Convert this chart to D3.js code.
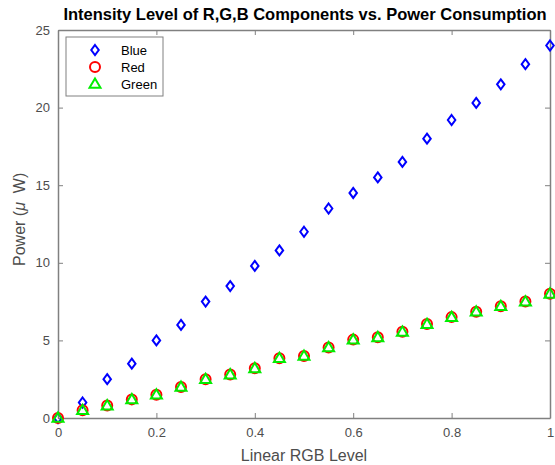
<!DOCTYPE html>
<html>
<head>
<meta charset="utf-8">
<script src="https://cdn.jsdelivr.net/npm/d3@7"></script>
<style>
  body { margin: 0; background: #fff; }
  svg { font-family: "Liberation Sans", Arial, sans-serif; }
</style>
</head>
<body>
<script>
// data
const levels = [0, 0.05, 0.1, 0.15, 0.2, 0.25, 0.3, 0.35, 0.4, 0.45, 0.5, 0.55, 0.6, 0.65, 0.7, 0.75, 0.8, 0.85, 0.9, 0.95, 1]
const blue = [0, 1, 2.5, 3.5, 5, 6, 7.5, 8.5, 9.8, 10.8, 12, 13.5, 14.5, 15.5, 16.5, 18, 19.2, 20.3, 21.5, 22.8, 24]
const red = [0, 0.5, 0.8, 1.2, 1.5, 2, 2.5, 2.8, 3.2, 3.85, 4, 4.55, 5.05, 5.2, 5.55, 6.05, 6.5, 6.85, 7.2, 7.5, 8]
const green = [0, 0.5, 0.8, 1.2, 1.5, 2, 2.5, 2.8, 3.2, 3.85, 4, 4.55, 5.05, 5.2, 5.55, 6.05, 6.5, 6.85, 7.2, 7.5, 8]
const xTicks = [0, 0.2, 0.4, 0.6, 0.8, 1]
const yTicks = [0, 5, 10, 15, 20, 25]
const names = ['Blue', 'Red', 'Green']

const width = 555, height = 465
const m = {left: 58, right: 5, top: 30, bottom: 47}
const axisColor = '#808080', textColor = '#4d4d4d'

const svg = d3.select('body').append('svg').attr('width', width).attr('height', height)

const x = d3.scaleLinear().domain([0, 1]).range([m.left, width - m.right])
const y = d3.scaleLinear().domain([0, 25]).range([height - m.bottom, m.top])

// box + ticks (MATLAB style, ticks inside)
const tickLen = 5
svg.append('g').attr('transform', `translate(0,${y(0)})`)
    .call(d3.axisBottom(x).tickValues(xTicks).tickSizeInner(-tickLen).tickSizeOuter(0).tickPadding(10).tickFormat(d3.format('~g')))
svg.append('g').attr('transform', `translate(0,${y(25)})`)
    .call(d3.axisTop(x).tickValues(xTicks).tickSizeInner(-tickLen).tickSizeOuter(0).tickFormat(''))
svg.append('g').attr('transform', `translate(${x(0)},0)`)
    .call(d3.axisLeft(y).tickValues(yTicks).tickSizeInner(-tickLen).tickSizeOuter(0).tickPadding(8))
svg.append('g').attr('transform', `translate(${x(1)},0)`)
    .call(d3.axisRight(y).tickValues(yTicks).tickSizeInner(-tickLen).tickSizeOuter(0).tickFormat(''))

svg.selectAll('.domain').attr('stroke', axisColor).attr('stroke-width', 1.5)
svg.selectAll('.tick line').attr('stroke', axisColor)
svg.selectAll('.tick text').attr('fill', textColor).style('font-size', '13px')

// markers
const diamond = (cx, cy, r) => `M${cx},${cy - r}L${cx + r * 0.75},${cy}L${cx},${cy + r}L${cx - r * 0.75},${cy}Z`
const triangle = (cx, cy, r) => `M${cx},${cy - r}L${cx + r},${cy + r * 0.7}L${cx - r},${cy + r * 0.7}Z`

const plot = svg.append('g')
plot.selectAll('path.blue').data(blue).join('path').attr('class', 'blue')
    .attr('d', (d, i) => diamond(x(levels[i]), y(d), 5))
    .attr('fill', 'none').attr('stroke', '#0000ff').attr('stroke-width', 2)
plot.selectAll('circle.red').data(red).join('circle').attr('class', 'red')
    .attr('cx', (d, i) => x(levels[i])).attr('cy', d => y(d)).attr('r', 5)
    .attr('fill', 'none').attr('stroke', '#ff0000').attr('stroke-width', 2)
plot.selectAll('path.green').data(green).join('path').attr('class', 'green')
    .attr('d', (d, i) => triangle(x(levels[i]), y(d), 5.5))
    .attr('fill', 'none').attr('stroke', '#00ee00').attr('stroke-width', 2)

// legend
const lg = svg.append('g')
lg.append('rect').attr('x', 66).attr('y', 37).attr('width', 97).attr('height', 59)
    .attr('fill', '#fff').attr('stroke', axisColor).attr('stroke-width', 1)
names.forEach((n, i) => {
    const cy = 50 + i * 17, cx = 95
    if (n === 'Blue') lg.append('path').attr('d', diamond(cx, cy, 5)).attr('fill', 'none').attr('stroke', '#0000ff').attr('stroke-width', 2)
    if (n === 'Red') lg.append('circle').attr('cx', cx).attr('cy', cy).attr('r', 5).attr('fill', 'none').attr('stroke', '#ff0000').attr('stroke-width', 2)
    if (n === 'Green') lg.append('path').attr('d', triangle(cx, cy, 5.5)).attr('fill', 'none').attr('stroke', '#00ee00').attr('stroke-width', 2)
    lg.append('text').attr('x', 121).attr('y', cy + 4.5).text(n).style('font-size', '13px').attr('fill', '#000')
})

// title and labels
svg.append('text').attr('x', (m.left + width - m.right) / 2 + 1).attr('y', 20).attr('text-anchor', 'middle')
    .style('font-size', '16.5px').style('font-weight', 'bold').attr('fill', '#000')
    .text('Intensity Level of R,G,B Components vs. Power Consumption')

svg.append('text').attr('x', x(0.5)).attr('y', 461).attr('text-anchor', 'middle')
    .style('font-size', '16px').attr('fill', textColor).text('Linear RGB Level')

const yl = svg.append('text').attr('transform', `translate(25,${y(12.8)}) rotate(-90)`).attr('text-anchor', 'middle')
    .style('font-size', '16px').attr('fill', textColor)
yl.append('tspan').text('Power (')
yl.append('tspan').style('font-style', 'italic').text('μ')
yl.append('tspan').text('  W)').attr('xml:space', 'preserve').style('white-space', 'pre')
</script>
</body>
</html>
